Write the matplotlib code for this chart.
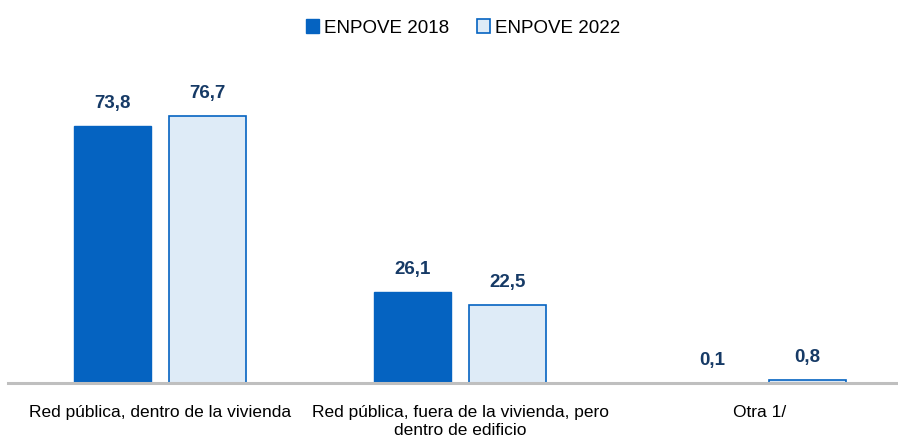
import numpy as np
import matplotlib.pyplot as plt
from matplotlib.patches import Patch
from matplotlib import font_manager

categories = ['Red pública, dentro de la vivienda',
              'Red pública, fuera de la vivienda, pero\ndentro de edificio',
              'Otra 1/']
enpove_2018 = [73.8, 26.1, 0.1]
enpove_2022 = [76.7, 22.5, 0.8]
series_names = ['ENPOVE 2018', 'ENPOVE 2022']

names = {f.name for f in font_manager.fontManager.ttflist}
narrow = 'Liberation Sans Narrow' if 'Liberation Sans Narrow' in names else 'Liberation Sans'
plt.rcParams['font.family'] = [narrow, 'DejaVu Sans']

dark = '#0563C1'
light = '#DEEBF7'
label_col = '#163A66'

fig = plt.figure(figsize=(8.98, 4.43), dpi=100)
ax = fig.add_axes([8 / 898, 60 / 443, 890 / 898, 323 / 443])

x = np.arange(len(categories))
w = 0.257
off = 0.158
b1 = ax.bar(x - off, enpove_2018, w, color=dark, edgecolor=dark, linewidth=1)
b2 = ax.bar(x + off, enpove_2022, w, color=light, edgecolor=dark, linewidth=1.2)

for bars, vals in [(b1, enpove_2018), (b2, enpove_2022)]:
    for r, v in zip(bars, vals):
        ax.annotate(f'{v:.1f}'.replace('.', ','),
                    (r.get_x() + r.get_width() / 2, r.get_height()),
                    xytext=(0, 10), textcoords='offset points',
                    ha='center', va='bottom', fontsize=13.5, fontweight='bold',
                    color=label_col)

ax.set_xlim(-0.507, 2.46)
ax.set_ylim(0, 323 / 3.48)
ax.set_xticks(x)
ax.set_xticklabels(categories, fontsize=12.5, color='#000000', linespacing=1.2)
ax.tick_params(axis='x', length=0, pad=16)
ax.set_yticks([])
for s in ['top', 'right', 'left']:
    ax.spines[s].set_visible(False)
ax.spines['bottom'].set_color('#BFBFBF')
ax.spines['bottom'].set_linewidth(2.2)

handles = [Patch(facecolor=dark, edgecolor=dark),
           Patch(facecolor=light, edgecolor=dark, linewidth=1.2)]
fig.legend(handles, series_names, loc='center', bbox_to_anchor=(463 / 898, 1 - 28 / 443),
           ncol=2, frameon=False, fontsize=13.5, handlelength=0.7, handleheight=0.7,
           handletextpad=0.25, columnspacing=1.5)

fig.savefig('out.png', dpi=100)
